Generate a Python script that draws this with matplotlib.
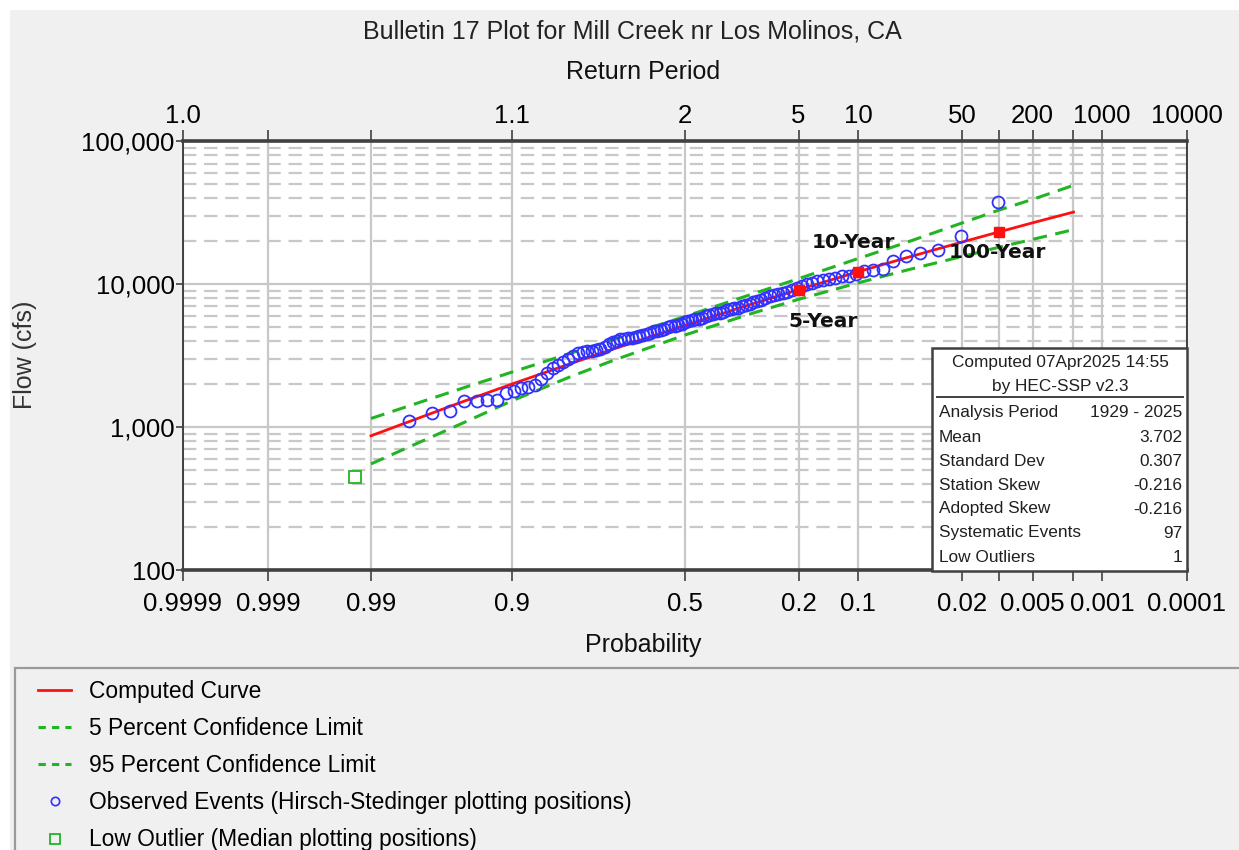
from statistics import NormalDist

import numpy as np
import matplotlib
matplotlib.use("Agg")
import matplotlib.pyplot as plt
from matplotlib.lines import Line2D
from matplotlib.patches import Rectangle
from matplotlib.ticker import FixedLocator, FixedFormatter, LogLocator, NullFormatter, NullLocator

# --- Computed LP3 curve and confidence limits (exceedance probability vs flow, cfs) ---
curve_prob = [0.99, 0.95, 0.9, 0.8, 0.7, 0.5, 0.3, 0.2, 0.1, 0.05, 0.02, 0.01, 0.005, 0.002]
curve_flow = [870, 1510, 2005, 2800, 3540, 5160, 7430, 9180, 12240, 15390, 19790, 23280, 26970, 32060]
upper_flow = [1150, 1880, 2430, 3310, 4120, 5960, 8710, 10960, 15140, 19720, 26920, 33110, 39360, 49320]
lower_flow = [553, 1070, 1530, 2270, 2950, 4420, 6380, 7850, 10230, 12590, 15670, 18200, 20650, 24160]

# frequency points marked on the curve
freq_labels = ["5-Year", "10-Year", "100-Year"]
freq_prob = [0.2, 0.1, 0.01]
freq_flow = [9180, 12240, 23280]

# annual peaks, ranked largest first (systematic record, low outlier excluded)
obs_flow = [
    37600, 21800, 17400, 16500, 15800, 14550, 12750, 12600, 12450, 11900,
    11470, 11350, 11130, 10920, 10730, 10560, 10280, 10010, 9660, 9420,
    9200, 8900, 8700, 8510, 8410, 8240, 8070, 7820, 7660, 7510,
    7280, 7140, 7000, 6870, 6820, 6700, 6570, 6450, 6340, 6290,
    6180, 6070, 5960, 5850, 5750, 5710, 5610, 5510, 5410, 5310,
    5210, 5120, 5080, 5000, 4900, 4810, 4720, 4690, 4600, 4510,
    4430, 4340, 4260, 4220, 4190, 4150, 4110, 4030, 3940, 3810,
    3640, 3520, 3480, 3430, 3390, 3340, 3300, 3170, 3020, 2870,
    2720, 2580, 2390, 2190, 1980, 1925, 1875, 1780, 1730, 1545,
    1540, 1530, 1520, 1290, 1250, 1100,
]
n_record = 97
outlier_prob = [0.9928]
outlier_flow = [445]

# axis ticks
prob_ticks = [0.9999, 0.999, 0.99, 0.9, 0.5, 0.2, 0.1, 0.02, 0.01, 0.005, 0.002, 0.001, 0.0001]
prob_labels = ["0.9999", "0.999", "0.99", "0.9", "0.5", "0.2", "0.1", "0.02", "", "0.005", "", "0.001", "0.0001"]
return_labels = ["1.0", "", "", "1.1", "2", "5", "10", "50", "", "200", "", "1000", "10000"]
flow_ticks = [100, 1000, 10000, 100000]
flow_labels = ["100", "1,000", "10,000", "100,000"]

stats_rows = [
    ("Analysis Period", "1929 - 2025"),
    ("Mean", "3.702"),
    ("Standard Dev", "0.307"),
    ("Station Skew", "-0.216"),
    ("Adopted Skew", "-0.216"),
    ("Systematic Events", "97"),
    ("Low Outliers", "1"),
]

RED = "#ff1010"
GREEN = "#22b422"
BLUE = "#3030ff"
DARK = "#404040"
GRID = "#c8c8c8"
FONT = ["Liberation Sans", "DejaVu Sans"]

plt.rcParams["font.family"] = FONT

# normal probability scale
_norm = NormalDist()
_ppf = np.vectorize(_norm.inv_cdf, otypes=[float])
_cdf = np.vectorize(_norm.cdf, otypes=[float])


def prob_fwd(p):
    p = np.clip(np.asarray(p, dtype=float), 1e-12, 1 - 1e-12)
    return _ppf(p)


def prob_inv(z):
    return _cdf(np.asarray(z, dtype=float))


W, H = 1239, 850


def px(x, y):
    return x / W, 1 - y / H


fig = plt.figure(figsize=(W / 100, H / 100), dpi=100, facecolor="white")
fig.add_artist(Rectangle(px(10, 850), (W - 10) / W, (H - 10) / H,
                         transform=fig.transFigure, facecolor="#f0f0f0",
                         edgecolor="none", zorder=-1))

ax = fig.add_axes([183 / W, 1 - 570 / H, (1187 - 183) / W, (570 - 141.5) / H])
ax.set_facecolor("white")
ax.set_xscale("function", functions=(prob_fwd, prob_inv))
ax.set_yscale("log")
ax.set_xlim(0.9999, 0.0001)
ax.set_ylim(100, 100000)

# grid
ax.xaxis.set_major_locator(FixedLocator(prob_ticks))
ax.xaxis.set_major_formatter(FixedFormatter(prob_labels))
ax.xaxis.set_minor_locator(NullLocator())
ax.yaxis.set_major_locator(FixedLocator(flow_ticks))
ax.yaxis.set_major_formatter(FixedFormatter(flow_labels))
ax.yaxis.set_minor_locator(LogLocator(base=10, subs=range(2, 10)))
ax.yaxis.set_minor_formatter(NullFormatter())
ax.grid(True, which="major", axis="x", color=GRID, lw=1.6, zorder=0)
ax.grid(True, which="major", axis="y", color=GRID, lw=1.6, zorder=0)
ax.grid(True, which="minor", axis="y", color=GRID, lw=1.6, linestyle=(0, (6, 3.5)), zorder=0)
ax.set_axisbelow(True)

ax.tick_params(axis="x", which="major", direction="out", length=8, width=1.2,
               color=DARK, labelsize=18.5, pad=8, top=False)
ax.tick_params(axis="y", which="major", direction="out", length=5, width=1.2,
               color=DARK, labelsize=18.5, pad=1)
ax.tick_params(axis="y", which="minor", length=0)
for side in ("top", "bottom"):
    ax.spines[side].set_linewidth(2.6)
    ax.spines[side].set_color(DARK)
for side in ("left", "right"):
    ax.spines[side].set_linewidth(1.4)
    ax.spines[side].set_color(DARK)

# return period axis on top
ax_top = ax.twiny()
ax_top.set_xscale("function", functions=(prob_fwd, prob_inv))
ax_top.set_xlim(0.9999, 0.0001)
ax_top.xaxis.set_major_locator(FixedLocator(prob_ticks))
ax_top.xaxis.set_major_formatter(FixedFormatter(return_labels))
ax_top.xaxis.set_minor_locator(NullLocator())
ax_top.tick_params(axis="x", direction="out", length=8, width=1.2, color=DARK,
                   labelsize=18.5, pad=1.5)
for s in ax_top.spines.values():
    s.set_visible(False)

# curve, limits, observations
ax.plot(curve_prob, curve_flow, color=RED, lw=2.0, zorder=4)
ax.plot(curve_prob, upper_flow, color=GREEN, lw=2.2, dashes=(4.6, 2.8), zorder=3)
ax.plot(curve_prob, lower_flow, color=GREEN, lw=2.2, dashes=(4.6, 2.8), zorder=3)

obs_prob = np.arange(1, len(obs_flow) + 1) / (n_record + 1)
ax.plot(obs_prob, obs_flow, ls="none", marker="o", ms=8.6, mfc="none", mec=BLUE,
        mew=1.3, zorder=5)
ax.plot(outlier_prob, outlier_flow, ls="none", marker="s", ms=8.5, mfc="none",
        mec=GREEN, mew=1.3, zorder=5)

ax.plot(freq_prob, freq_flow, ls="none", marker="s", ms=7, color=RED, zorder=6)
label_offsets = [(-7, -23), (-33, 21), (-36, -15)]
for lab, p, q, off in zip(freq_labels, freq_prob, freq_flow, label_offsets):
    ax.annotate(lab, (p, q), xytext=off, textcoords="offset points",
                ha="left", va="center", fontsize=14.5, fontweight="bold",
                family="DejaVu Sans", color="#111111", zorder=7)

# titles
fig.text(*px(632, 31), "Bulletin 17 Plot for Mill Creek nr Los Molinos, CA",
         ha="center", va="center", fontsize=18, color="#222222")
fig.text(*px(643, 72), "Return Period", ha="center", va="center", fontsize=18,
         color="#111111")
fig.text(*px(643, 645), "Probability", ha="center", va="center", fontsize=18,
         color="#111111")
fig.text(*px(25, 355), "Flow (cfs)", ha="center", va="center", rotation=90,
         fontsize=18, color="#333333")

# statistics box
fig.add_artist(Rectangle(px(932, 571), (1187 - 932) / W, (571 - 348) / H,
                         transform=fig.transFigure, facecolor="white",
                         edgecolor=DARK, lw=1.8, zorder=3))
fig.add_artist(Line2D([937 / W, 1183 / W], [1 - 397 / H, 1 - 397 / H],
                      transform=fig.transFigure, color=DARK, lw=1.4, zorder=4))
fig.text(*px(1060, 362), "Computed 07Apr2025 14:55", ha="center", va="center",
         fontsize=12.4, color="#202020", zorder=4)
fig.text(*px(1060, 386), "by HEC-SSP v2.3", ha="center", va="center",
         fontsize=12.4, color="#202020", zorder=4)
for k, (name, val) in enumerate(stats_rows):
    y = 413 + 24 * k
    fig.text(*px(939, y), name, ha="left", va="center", fontsize=12.4,
             color="#202020", zorder=4)
    fig.text(*px(1182, y), val, ha="right", va="center", fontsize=12.4,
             color="#202020", zorder=4)

# legend panel
fig.add_artist(Rectangle(px(15, 880), 1.0, (880 - 668) / H,
                         transform=fig.transFigure, facecolor="none",
                         edgecolor="#9a9a9a", lw=1.6, zorder=2))
handles = [
    Line2D([], [], color=RED, lw=2.0),
    Line2D([], [], color=GREEN, lw=2.2, dashes=(2.4, 2.0)),
    Line2D([], [], color=GREEN, lw=2.2, dashes=(2.4, 2.0)),
    Line2D([], [], ls="none", marker="o", ms=6, mfc="none", mec=BLUE, mew=1.2),
    Line2D([], [], ls="none", marker="s", ms=6.5, mfc="none", mec=GREEN, mew=1.3),
]
labels = [
    "Computed Curve",
    "5 Percent Confidence Limit",
    "95 Percent Confidence Limit",
    "Observed Events (Hirsch-Stedinger plotting positions)",
    "Low Outlier (Median plotting positions)",
]
fig.legend(handles, labels, loc="upper left", bbox_to_anchor=px(38, 680),
           frameon=False, fontsize=16.4, handlelength=1.45, handletextpad=0.8,
           labelspacing=0.62, borderpad=0, borderaxespad=0)

fig.savefig("out.png", dpi=100, facecolor=fig.get_facecolor())
